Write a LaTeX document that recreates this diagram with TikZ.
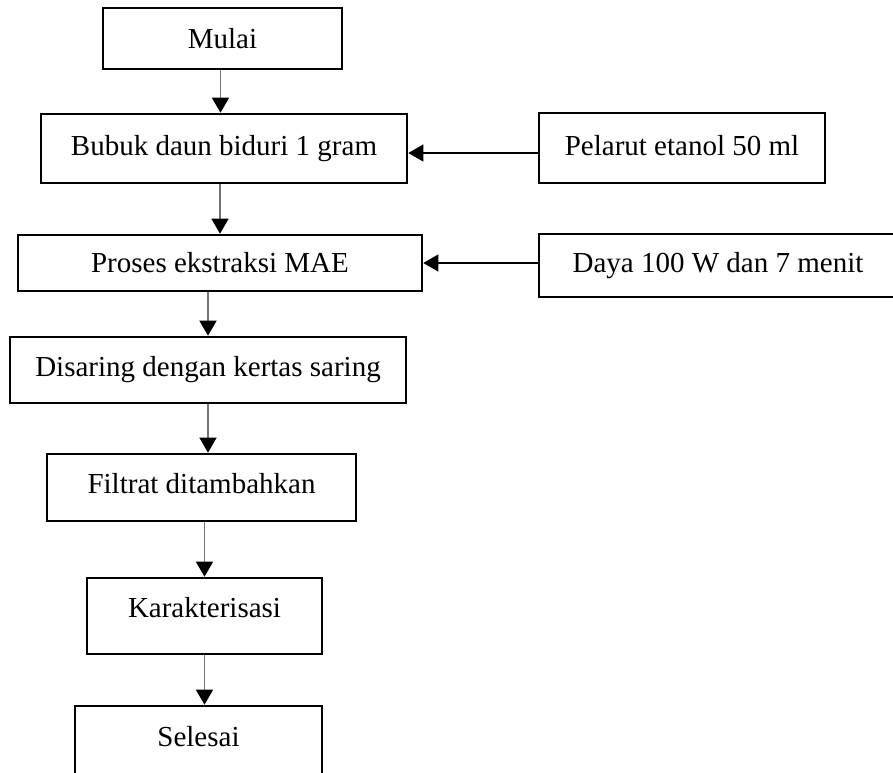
\documentclass[tikz,border=0pt]{standalone}
\usepackage{fontspec}
\setmainfont{Liberation Serif}
\usetikzlibrary{arrows.meta,positioning,calc}
\tikzset{box/.style={draw=black,line width=2.6pt,align=center,inner sep=0pt,font=\fontsize{29}{34}\selectfont},arrow/.style={-{Triangle[length=15pt,width=17pt,color=black]},draw=black!55,line width=1.4pt},harrow/.style={-{Triangle[length=15pt,width=17pt,color=black]},draw=black,line width=1.1pt}}

\begin{document}
\begin{tikzpicture}[x=1pt,y=-1pt]
\useasboundingbox (0,0) rectangle (893,772);
\node[box,minimum width=239pt,minimum height=61pt] (mulai) at (222.5,38.5) {Mulai};
\node[box,minimum width=366pt,minimum height=69pt,text depth=6pt] (bubuk) at (224,148.5) {Bubuk daun biduri 1 gram};
\node[box,minimum width=286pt,minimum height=70pt,text depth=6pt] (pelarut) at (682,148) {Pelarut etanol 50 ml};
\node[box,minimum width=404pt,minimum height=56pt] (proses) at (220,263) {Proses ekstraksi MAE};
\node[box,minimum width=358pt,minimum height=63pt] (daya) at (718,265.5) {Daya 100 W dan 7 menit};
\node[box,minimum width=396pt,minimum height=66pt] (saring) at (208,370) {Disaring dengan kertas saring};
\node[box,minimum width=309pt,minimum height=67pt,text depth=8pt] (filtrat) at (201.5,487.5) {Filtrat ditambahkan};
\node[box,minimum width=235pt,minimum height=76pt,text depth=18pt] (karakter) at (204.5,616) {Karakterisasi};
\node[box,minimum width=247pt,minimum height=78pt,text depth=18pt] (selesai) at (198.5,745) {Selesai};
\draw[arrow] ([xshift=-2pt]mulai.south) -- ([xshift=-2pt]mulai.south |- bubuk.north);
\draw[arrow] ([xshift=-4pt]bubuk.south) -- ([xshift=-4pt]bubuk.south |- proses.north);
\draw[arrow] (saring.north |- proses.south) -- (saring.north);
\draw[arrow] (saring.south) -- (saring.south |- filtrat.north);
\draw[arrow] (karakter.north |- filtrat.south) -- (karakter.north);
\draw[arrow] (karakter.south) -- (karakter.south |- selesai.north);
\draw[harrow] ([yshift=-5pt]pelarut.west) -- ([yshift=-5pt]pelarut.west -| bubuk.east);
\draw[harrow] (daya.west |- proses.east) -- (proses.east);
\end{tikzpicture}
\end{document}
